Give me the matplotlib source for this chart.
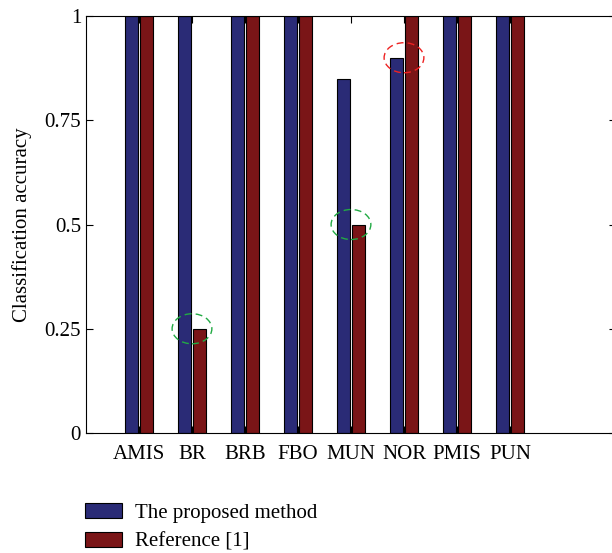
import numpy as np
import matplotlib.pyplot as plt
from matplotlib.patches import Ellipse

plt.rcParams['font.family'] = ['Liberation Serif', 'DejaVu Serif']

categories = ['AMIS', 'BR', 'BRB', 'FBO', 'MUN', 'NOR', 'PMIS', 'PUN']
proposed = [1, 1, 1, 1, 0.85, 0.9, 1, 1]
reference = [1, 0.25, 1, 1, 0.5, 1, 1, 1]
# highlighted spots: (category index, value, colour)
highlights = [(1, 0.25, '#22aa44'), (4, 0.5, '#22aa44'), (5, 0.9, '#ee2222')]

x = np.arange(1, len(categories) + 1)
w = 0.25

fig = plt.figure(figsize=(6.12, 5.53), dpi=100)
ax = fig.add_axes([0.1405, 0.217, 0.866, 0.754])

b1 = ax.bar(x - w / 2 - 0.01, proposed, w, color='#2a2b76', edgecolor='black', linewidth=0.8)
b2 = ax.bar(x + w / 2 + 0.01, reference, w, color='#7a1517', edgecolor='black', linewidth=0.8)

for i, v, c in highlights:
    ax.add_patch(Ellipse((x[i], v), 0.75, 0.072, fill=False, edgecolor=c,
                         linestyle=(0, (5, 3)), linewidth=1))

ax.set_xlim(0, 10)
ax.set_ylim(0, 1)
ax.set_xticks(x)
ax.set_xticklabels(categories)
ax.set_yticks([0, 0.25, 0.5, 0.75, 1])
ax.set_yticklabels(['0', '0.25', '0.5', '0.75', '1'])
ax.tick_params(direction='in', top=True, right=True, labelsize=15, length=5)
ax.tick_params(axis='x', pad=9)
ax.set_ylabel('Classification accuracy', fontsize=15, labelpad=9)

fig.legend([b1, b2], ['The proposed method', 'Reference [1]'],
           loc='upper left', bbox_to_anchor=(0.125, 0.105), frameon=False,
           fontsize=15, handlelength=1.8, handleheight=0.7,
           labelspacing=0.45, handletextpad=0.6, borderaxespad=0)

fig.savefig('out.png', dpi=100)
